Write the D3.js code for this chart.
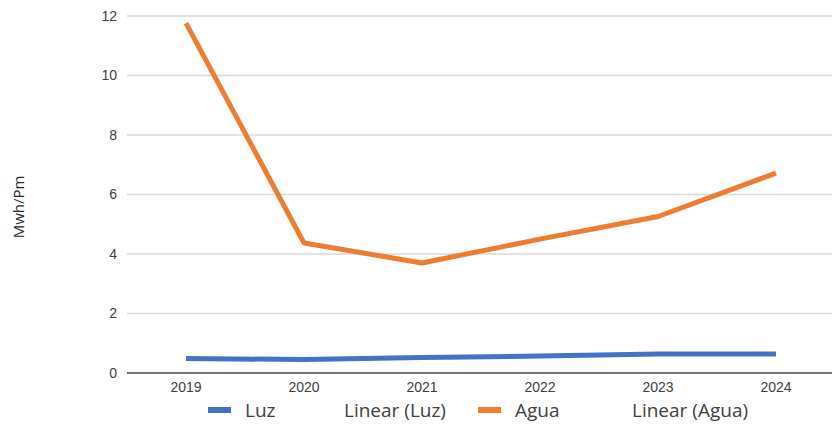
<!DOCTYPE html>
<html>
<head>
<meta charset="utf-8">
<script src="https://cdn.jsdelivr.net/npm/d3@7/dist/d3.min.js"></script>
<style>
  html, body { margin: 0; padding: 0; background: #fff; }
  svg { display: block; font-family: "Open Sans", "Noto Sans", sans-serif; }
</style>
</head>
<body>
<svg id="chart" width="832" height="425"></svg>
<script>
// Consumption per year (Mwh/Pm)
const years = ["2019", "2020", "2021", "2022", "2023", "2024"];
const luz = [0.49, 0.45, 0.52, 0.57, 0.64, 0.64];
const agua = [11.76, 4.37, 3.70, 4.50, 5.26, 6.72];
const yTicks = [0, 2, 4, 6, 8, 10, 12];
const legendItems = [
  { label: "Luz", color: "#4472C4" },
  { label: "Linear (Luz)", color: null },
  { label: "Agua", color: "#ED7D31" },
  { label: "Linear (Agua)", color: null }
];

const svg = d3.select("#chart");
const plotLeft = 127, plotRight = 835, plotTop = 16, plotBottom = 373;

const x = d3.scaleBand().domain(years).range([plotLeft, plotRight]);
const y = d3.scaleLinear().domain([0, 12]).range([plotBottom, plotTop]);

// Horizontal gridlines
svg.append("g")
  .selectAll("line")
  .data(yTicks.filter(d => d !== 0))
  .join("line")
  .attr("x1", plotLeft).attr("x2", 832)
  .attr("y1", d => y(d)).attr("y2", d => y(d))
  .attr("stroke", "#d9d9d9").attr("stroke-width", 1.3);

// Y axis labels
const yAxis = d3.axisLeft(y).tickValues(yTicks).tickSize(0).tickPadding(10);
svg.append("g")
  .attr("transform", `translate(${plotLeft},0)`)
  .call(yAxis)
  .call(g => g.select(".domain").remove())
  .call(g => g.selectAll("text")
    .attr("fill", "#404040").style("font-size", "14px"));

// X axis
const xAxis = d3.axisBottom(x).tickSize(0).tickPadding(9);
svg.append("g")
  .attr("transform", `translate(0,${plotBottom})`)
  .call(xAxis)
  .call(g => g.select(".domain").attr("d", `M${plotLeft},0H832`)
    .attr("stroke", "#404040").attr("stroke-width", 1.5))
  .call(g => g.selectAll("text")
    .attr("fill", "#404040").style("font-size", "14px"));

// Y axis title
svg.append("text")
  .attr("transform", `translate(24,207) rotate(-90)`)
  .attr("text-anchor", "middle")
  .attr("fill", "#262626")
  .style("font-size", "15px")
  .text("Mwh/Pm");

// Series lines
const line = d3.line()
  .x((d, i) => x(years[i]) + x.bandwidth() / 2)
  .y(d => y(d));

[[luz, "#4472C4"], [agua, "#ED7D31"]].forEach(([vals, color]) => {
  svg.append("path")
    .datum(vals)
    .attr("d", line)
    .attr("fill", "none")
    .attr("stroke", color)
    .attr("stroke-width", 5)
    .attr("stroke-linejoin", "round");
});

// Legend
const legendX = [208, 344, 478, 632];
const legend = svg.append("g");
legendItems.forEach((item, i) => {
  const g = legend.append("g").attr("transform", `translate(${legendX[i]},410)`);
  if (item.color) {
    g.append("rect")
      .attr("x", 0).attr("y", -3).attr("width", 23).attr("height", 6)
      .attr("fill", item.color);
  }
  g.append("text")
    .attr("x", item.color ? 37 : 0).attr("y", 7)
    .attr("fill", "#404040").style("font-size", "19px")
    .text(item.label);
});
</script>
</body>
</html>
